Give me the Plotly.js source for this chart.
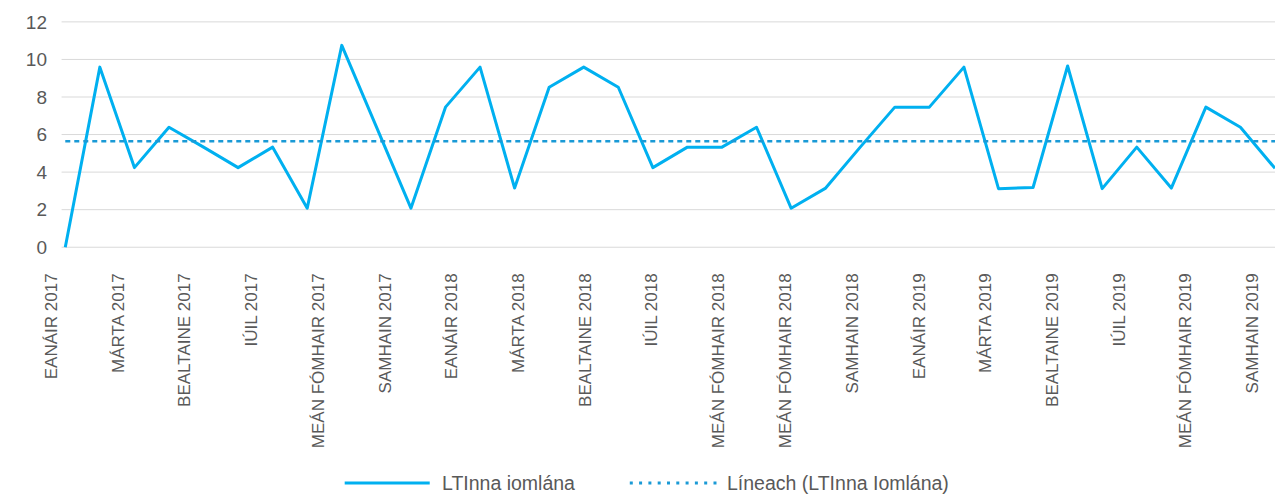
<!DOCTYPE html>
<html>
<head>
<meta charset="utf-8">
<script src="https://cdn.plot.ly/plotly-3.0.1.min.js"></script>
<style>
  html, body { margin: 0; padding: 0; background: #fff; }
  #chart { width: 1275px; height: 495px; }
  path.js-line { stroke-linejoin: round !important; }
</style>
</head>
<body>
<div id="chart"></div>
<script>
// ---- Data ----
const months = [
  "Eanáir 2017","Feabhra 2017","Márta 2017","Aibreán 2017","Bealtaine 2017","Meitheamh 2017",
  "Iúil 2017","Lúnasa 2017","Meán Fómhair 2017","Deireadh Fómhair 2017","Samhain 2017","Nollaig 2017",
  "Eanáir 2018","Feabhra 2018","Márta 2018","Aibreán 2018","Bealtaine 2018","Meitheamh 2018",
  "Iúil 2018","Lúnasa 2018","Meán Fómhair 2018","Deireadh Fómhair 2018","Samhain 2018","Nollaig 2018",
  "Eanáir 2019","Feabhra 2019","Márta 2019","Aibreán 2019","Bealtaine 2019","Meitheamh 2019",
  "Iúil 2019","Lúnasa 2019","Meán Fómhair 2019","Deireadh Fómhair 2019","Samhain 2019","Nollaig 2019"
];
const ltiTotal = [
  0, 9.59, 4.24, 6.39, 5.33, 4.24, 5.33, 2.08, 10.75, 6.39, 2.08, 7.46,
  9.59, 3.15, 8.52, 9.59, 8.52, 4.24, 5.33, 5.33, 6.39, 2.08, 3.15, 5.33,
  7.46, 7.46, 9.59, 3.12, 3.18, 9.65, 3.12, 5.33, 3.15, 7.46, 6.39, 4.2
];
// Linear trendline (Líneach) end values
const trendEnds = [5.64, 5.64];

// Axis tick labels as printed on the reference, and where they sit (in month-index units)
const tickLabels = [
  "EANÁIR 2017","MÁRTA 2017","BEALTAINE 2017","IÚIL 2017","MEÁN FÓMHAIR 2017","SAMHAIN 2017",
  "EANÁIR 2018","MÁRTA 2018","BEALTAINE 2018","IÚIL 2018","MEÁN FÓMHAIR 2018","MEÁN FÓMHAIR 2018",
  "SAMHAIN 2018","EANÁIR 2019","MÁRTA 2019","BEALTAINE 2019","IÚIL 2019","MEÁN FÓMHAIR 2019","SAMHAIN 2019"
];
const tickPositions = [
  -0.40, 1.53, 3.46, 5.39, 7.32, 9.25, 11.18, 13.11, 15.04, 16.97,
  18.91, 20.84, 22.77, 24.70, 26.63, 28.56, 30.49, 32.42, 34.35
];
const yTicks = [0, 2, 4, 6, 8, 10, 12];

const seriesName = "LTInna iomlána";
const trendName = "Líneach (LTInna Iomlána)";

// ---- Build ----
const xIdx = months.map((_, i) => i);

const W = 1275, H = 495;
const M = { l: 48.4, r: 0, t: 20, b: 244 };
const xRange = [-0.5, xIdx.length - 1];
const gridStart = -0.107;   // where the horizontal gridlines begin (index units)

const lineColor = "#00B0F0";
const trendColor = "#1A9AD6";
const textColor = "#595959";
const gridColor = "#D9D9D9";
const font = "'Liberation Sans', Arial, sans-serif";

const traces = [
  {
    x: xIdx, y: ltiTotal, name: seriesName, type: "scatter", mode: "lines",
    line: { color: lineColor, width: 3 }, text: months,
    hovertemplate: "%{text}: %{y}<extra></extra>"
  },
  {
    x: [xIdx[0], xIdx[xIdx.length - 1]], y: trendEnds, name: trendName,
    type: "scatter", mode: "lines",
    line: { color: trendColor, width: 2.5, dash: "5px,4px" },
    hoverinfo: "skip"
  }
];

// paper-coordinate helpers for the hand-built legend
const plotW = W - M.l - M.r, plotH = H - M.t - M.b;
const px = v => (v - M.l) / plotW;
const py = v => (H - M.b - v) / plotH;
const legY = 483;

const gridShapes = yTicks.map(v => ({
  type: "line", xref: "x", yref: "y", layer: "below",
  x0: gridStart, x1: xRange[1], y0: v, y1: v,
  line: { color: gridColor, width: 1 }
}));

const layout = {
  width: W, height: H,
  margin: M,
  paper_bgcolor: "#ffffff", plot_bgcolor: "#ffffff",
  showlegend: false,
  font: { family: font, color: textColor },
  xaxis: {
    range: xRange, showgrid: false, zeroline: false, showline: false,
    tickmode: "array",
    tickvals: tickPositions,
    ticktext: tickLabels,
    tickangle: -90, ticks: "",
    ticklabelstandoff: 18,
    tickfont: { size: 17, color: textColor, family: font },
    fixedrange: true
  },
  yaxis: {
    range: [-0.2, 12.1], tickmode: "array", tickvals: yTicks,
    showgrid: false, zeroline: false, showline: false, ticks: "",
    ticklabelstandoff: 11.4,
    tickfont: { size: 19, color: textColor, family: font },
    fixedrange: true
  },
  shapes: gridShapes.concat([
    { type: "line", xref: "paper", yref: "paper", x0: px(345), x1: px(430), y0: py(legY), y1: py(legY),
      line: { color: lineColor, width: 3 } },
    { type: "line", xref: "paper", yref: "paper", x0: px(630), x1: px(720), y0: py(legY), y1: py(legY),
      line: { color: trendColor, width: 3, dash: "3px,6.3px" } }
  ]),
  annotations: [
    { xref: "paper", yref: "paper", x: px(440), y: py(legY), xanchor: "left", yanchor: "middle",
      text: seriesName, showarrow: false, font: { size: 19.5, color: textColor, family: font } },
    { xref: "paper", yref: "paper", x: px(725), y: py(legY), xanchor: "left", yanchor: "middle",
      text: trendName, showarrow: false, font: { size: 19.5, color: textColor, family: font } }
  ]
};

Plotly.newPlot("chart", traces, layout, { displayModeBar: false, staticPlot: true });
</script>
</body>
</html>
